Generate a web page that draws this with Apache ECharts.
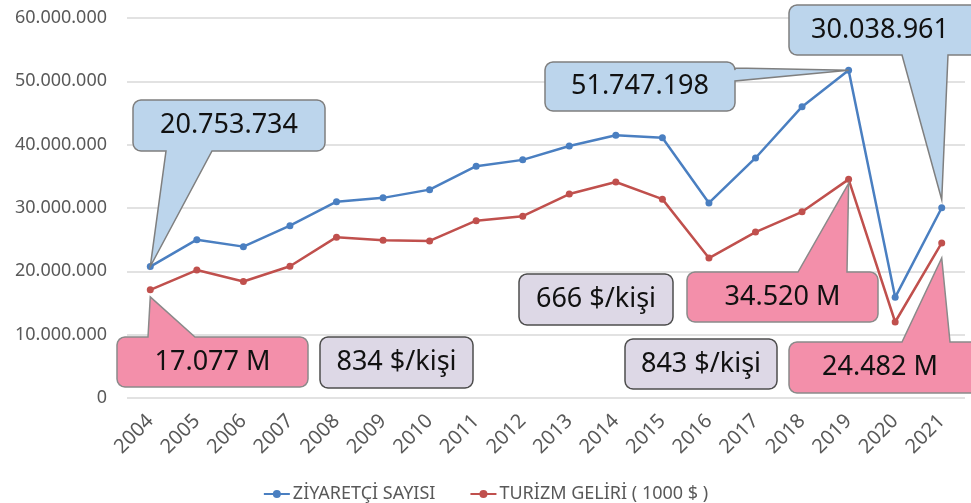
<!DOCTYPE html>
<html>
<head>
<meta charset="utf-8">
<script src="https://cdn.jsdelivr.net/npm/echarts@6/dist/echarts.min.js"></script>
<style>
  html, body { margin: 0; padding: 0; background: #fff; }
  #chart { width: 971px; height: 503px; }
</style>
</head>
<body>
<div id="chart"></div>
<script>
const years = ["2004", "2005", "2006", "2007", "2008", "2009", "2010", "2011", "2012",
  "2013", "2014", "2015", "2016", "2017", "2018", "2019", "2020", "2021"];
const visitors = [20753734, 25000000, 23900000, 27200000, 31000000, 31600000, 32900000,
  36600000, 37600000, 39800000, 41500000, 41100000, 30800000, 37900000, 46000000,
  51747198, 15900000, 30038961];
const revenue = [17077000, 20200000, 18400000, 20800000, 25400000, 24900000, 24800000,
  28000000, 28700000, 32200000, 34100000, 31400000, 22100000, 26200000, 29400000,
  34520000, 12000000, 24482000];
const seriesNames = ["ZİYARETÇİ SAYISI", "TURİZM GELİRİ ( 1000 $ )"];

// callout texts: [text, style, series index (-1 = free box), data index]
const calloutTexts = [
  ["20.753.734", "blue", 0, 0],
  ["51.747.198", "blue", 0, 15],
  ["30.038.961", "blue", 0, 17],
  ["17.077 M", "pink", 1, 0],
  ["34.520 M", "pink", 1, 15],
  ["24.482 M", "pink", 1, 17],
  ["834 $/kişi", "note", -1, 0],
  ["666 $/kişi", "note", -1, 0],
  ["843 $/kişi", "note", -1, 0],
];

// layout of the boxes (pixels): x, y, w, h, pointer side, base start, base end, tip dy
const calloutLayout = [
  [133, 100, 192, 51, "bottom", 166, 212, 0],
  [545, 62, 190, 49, "right", 68, 81, 0],
  [789, 5, 200, 50, "bottom", 902, 948, -8],
  [117, 337, 191, 50, "top", 148, 195, 7],
  [687, 272, 191, 50, "top", 798, 847, 4],
  [789, 342, 200, 51, "top", 902, 950, 15],
  [320, 337, 153, 51, "none", 0, 0, 0],
  [519, 274, 154, 51, "none", 0, 0, 0],
  [625, 339, 152, 50, "none", 0, 0, 0],
];

const calloutColors = {
  blue: { fill: "#bcd5ec", stroke: "#7f7f7f" },
  pink: { fill: "#f38faa", stroke: "#8a8a8a" },
  note: { fill: "#ddd8e6", stroke: "#4d4d4d" },
};

const chart = echarts.init(document.getElementById("chart"));

function dotted(v) {
  return String(v).replace(/\B(?=(\d{3})+(?!\d))/g, ".");
}

chart.setOption({
  animation: false,
  textStyle: { fontFamily: "Noto Sans" },
  grid: { left: 127, right: 6, top: 18, bottom: 105, containLabel: false },
  legend: {
    top: 480,
    left: "center",
    itemWidth: 26,
    itemHeight: 10,
    itemGap: 34,
    textStyle: { color: "#595959", fontSize: 18, padding: [0, 0, 0, -2] },
    data: seriesNames,
  },
  xAxis: {
    type: "category",
    data: years,
    boundaryGap: true,
    axisLine: { show: false },
    axisTick: { show: false },
    axisLabel: { rotate: 45, color: "#595959", fontSize: 20, margin: 20, interval: 0 },
  },
  yAxis: {
    type: "value",
    min: 0,
    max: 60000000,
    interval: 10000000,
    axisLabel: { color: "#595959", fontSize: 18, margin: 20, formatter: dotted },
    splitLine: { lineStyle: { color: "#d9d9d9", width: 1.5 } },
  },
  series: [
    {
      name: seriesNames[0],
      type: "line",
      data: visitors,
      symbol: "circle",
      symbolSize: 7,
      color: "#4a7fc1",
      lineStyle: { width: 2.5 },
      z: 3,
    },
    {
      name: seriesNames[1],
      type: "line",
      data: revenue,
      symbol: "circle",
      symbolSize: 7,
      color: "#c0504d",
      lineStyle: { width: 2.5 },
      z: 2,
    },
  ],
});

function corner(pts, cx, cy, r, a0) {
  for (let i = 0; i <= 4; i++) {
    const a = a0 + (Math.PI / 2) * (i / 4);
    pts.push([cx + r * Math.cos(a), cy + r * Math.sin(a)]);
  }
}

function calloutPoints(x, y, w, h, side, a, b, tip) {
  const r = 8;
  const pts = [];
  corner(pts, x + r, y + r, r, Math.PI);
  if (side === "top") { pts.push([a, y], tip, [b, y]); }
  corner(pts, x + w - r, y + r, r, -Math.PI / 2);
  if (side === "right") { pts.push([x + w, a], tip, [x + w, b]); }
  corner(pts, x + w - r, y + h - r, r, 0);
  if (side === "bottom") { pts.push([b, y + h], tip, [a, y + h]); }
  corner(pts, x + r, y + h - r, r, Math.PI / 2);
  return pts;
}

const graphics = [];
calloutTexts.forEach(([text, kind, si, di], i) => {
  const [x, y, w, h, side, a, b, dy] = calloutLayout[i];
  let tip = null;
  if (si >= 0) {
    const value = si === 0 ? visitors[di] : revenue[di];
    const p = chart.convertToPixel({ seriesIndex: si }, [di, value]);
    tip = [p[0], p[1] + dy];
  }
  const c = calloutColors[kind];
  graphics.push({
    type: "polygon",
    shape: { points: calloutPoints(x, y, w, h, side, a, b, tip) },
    style: { fill: c.fill, stroke: c.stroke, lineWidth: 1.5 },
    z: 100,
  });
  graphics.push({
    type: "text",
    x: x + w / 2 - (x + w > 971 ? (x + w - 971) / 2 : 0),
    y: y + h / 2,
    style: {
      text: text,
      fill: "#111",
      font: "27px 'Noto Sans'",
      textAlign: "center",
      textVerticalAlign: "middle",
      align: "center",
      verticalAlign: "middle",
    },
    z: 101,
  });
});

chart.setOption({ graphic: graphics });
</script>
</body>
</html>
